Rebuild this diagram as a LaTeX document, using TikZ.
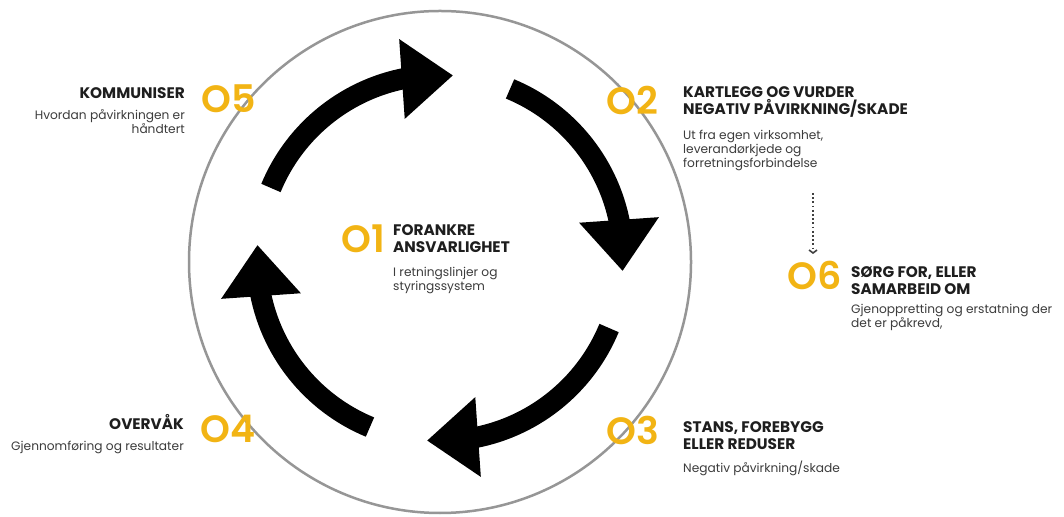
\documentclass[tikz,border=0pt]{standalone}
\usepackage{fontspec}
\setmainfont{Poppins}
\newfontfamily\numfont{Poppins SemiBold}
\usetikzlibrary{calc,arrows.meta}
\definecolor{numcol}{RGB}{242,180,20}
\definecolor{ttlcol}{RGB}{30,30,30}
\definecolor{subcol}{RGB}{60,60,60}
\definecolor{ringcol}{RGB}{150,150,150}
\begin{document}
\begin{tikzpicture}[x=1pt,y=1pt,
  num/.style={font=\fontsize{38}{38}\selectfont\numfont, text=numcol, inner sep=0pt},
  ttl/.style={font=\fontsize{15.3}{17.5}\selectfont\bfseries, text=ttlcol, inner sep=0pt},
  sub/.style={font=\fontsize{12.2}{14}\selectfont, text=subcol, inner sep=0pt},
  bigarrow/.style={line width=21pt, black}]
\fill[white] (0,0) rectangle (1064,516);
\useasboundingbox (0,0) rectangle (1064,516);
\coordinate (C) at (440,258);
\node[draw=ringcol, line width=2.5pt, circle, minimum size=502pt, inner sep=0pt] (ring) at (440,254) {};
\foreach \k in {0,1,2,3} {
  \pgfmathsetmacro\s{157.5-90*\k}
  \pgfmathsetmacro\b{102-90*\k}
  \pgfmathsetmacro\e{99-90*\k}
  \pgfmathsetmacro\t{86-90*\k}
  \draw[bigarrow] ($(C)+(\s:183)$) arc[start angle=\s, end angle=\e, radius=183];
  \coordinate (B) at ($(C)+(\b:183)$);
  \coordinate (T) at ($(C)+(\t:183)$);
  \fill[black] ($(B)!40pt!90:(T)$) -- (T) -- ($(B)!40pt!-90:(T)$) -- cycle;
}
% 05
\node[num, anchor=base west] (n5) at (201,403) {O5};
\node[ttl, anchor=base east] (t5) at (185,417) {KOMMUNISER};
\node[sub, anchor=base east, align=right] (s5) at (185,382) {Hvordan påvirkningen er\\håndtert};
% 02
\node[num, anchor=base west] (n2) at (606,401) {O2};
\node[ttl, anchor=base west, align=left] (t2) at (683,401) {KARTLEGG OG VURDER\\NEGATIV PÅVIRKNING/SKADE};
\node[sub, anchor=base west, align=left] (s2) at (683,348) {Ut fra egen virksomhet,\\leverandørkjede og\\forretningsforbindelse};
% 01
\node[num, anchor=base west] (n1) at (341,263) {O1};
\node[ttl, anchor=base west, align=left] (t1) at (393,263) {FORANKRE\\ANSVARLIGHET};
\node[sub, anchor=base west, align=left] (s1) at (393,225) {I retningslinjer og\\styringssystem};
% 06
\node[num, anchor=base west] (n6) at (787,226) {O6};
\node[ttl, anchor=base west, align=left] (t6) at (851,221) {SØRG FOR, ELLER\\SAMARBEID OM};
\node[sub, anchor=base west, align=left] (s6) at (851,188) {Gjenoppretting og erstatning der\\det er påkrevd,};
% 04
\node[num, anchor=base west] (n4) at (200,73) {O4};
\node[ttl, anchor=base east] (t4) at (184,86) {OVERVÅK};
\node[sub, anchor=base east] (s4) at (184,65) {Gjennomføring og resultater};
% 03
\node[num, anchor=base west] (n3) at (606,71) {O3};
\node[ttl, anchor=base west, align=left] (t3) at (683,66) {STANS, FOREBYGG\\ELLER REDUSER};
\node[sub, anchor=base west] (s3) at (683,43) {Negativ påvirkning/skade};
% dotted arrow
\coordinate (d1) at (813,323);
\coordinate (d2) at (813,262);
\draw[ttlcol!85, line width=1.6pt, dash pattern=on 1.8pt off 2.4pt, -{Straight Barb[length=3pt,width=8pt]}] (d1) -- (d2);
\end{tikzpicture}
\end{document}
